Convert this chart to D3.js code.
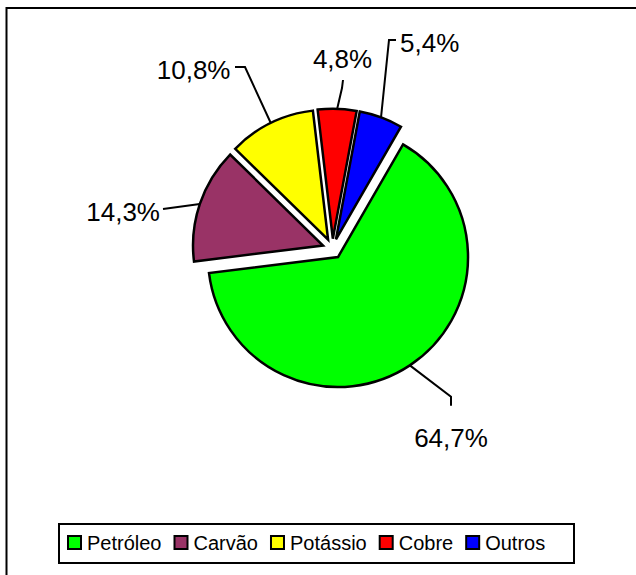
<!DOCTYPE html>
<html>
<head>
<meta charset="utf-8">
<script src="https://cdn.jsdelivr.net/npm/d3@7/dist/d3.min.js"></script>
<style>
  body { margin: 0; background: #fff; }
  text { font-family: "Liberation Sans", Arial, sans-serif; fill: #000; }
</style>
</head>
<body>
<svg id="chart" width="636" height="575"></svg>
<script>
var categories = ["Petróleo", "Carvão", "Potássio", "Cobre", "Outros"];
var values = [64.7, 14.3, 10.8, 4.8, 5.4];
var labels = ["64,7%", "14,3%", "10,8%", "4,8%", "5,4%"];
var colors = ["#00ff00", "#993366", "#ffff00", "#ff0000", "#0000ff"];

// label placement, relative to pie centre: elbow, line end, text anchor
var labelLayout = [
  {elbow: [118.5, 148], end: [118.5, 157], text: [118.5, 198], anchor: "middle"},
  {elbow: null, end: [-169.5, -39.7], text: [-172.5, -27.7], anchor: "end"},
  {elbow: [-87.5, -181.7], end: [-97.5, -181.7], text: [-102, -169.7], anchor: "end"},
  {elbow: [9.5, -160.7], end: [10.5, -168.7], text: [10, -180.7], anchor: "middle"},
  {elbow: [56.5, -208.7], end: [63.5, -208.7], text: [67.5, -196.7], anchor: "start"}
];

var svg = d3.select("svg#chart"),
    cx = 332.5, cy = 248.7,
    radius = 130,
    explode = 10;

// outer chart frame (runs off the page to the right and bottom)
svg.append("rect")
    .attr("x", 6.5).attr("y", 8)
    .attr("width", 700).attr("height", 700)
    .attr("fill", "none")
    .attr("stroke", "#000")
    .attr("stroke-width", 2);

var pie = d3.pie()
    .sort(null)
    .startAngle(30 * Math.PI / 180)
    .endAngle(390 * Math.PI / 180)
    .value(function(d) { return d; });

var arcs = pie(values);

var arc = d3.arc().innerRadius(0).outerRadius(radius);

function offset(d, r) {
  var a = (d.startAngle + d.endAngle) / 2;
  return [Math.sin(a) * r, -Math.cos(a) * r];
}

var g = svg.append("g").attr("transform", "translate(" + cx + "," + cy + ")");

g.selectAll("path.slice")
  .data(arcs)
  .enter().append("path")
    .attr("class", "slice")
    .attr("transform", function(d) { var o = offset(d, explode); return "translate(" + o[0] + "," + o[1] + ")"; })
    .attr("d", arc)
    .attr("fill", function(d, i) { return colors[i]; })
    .attr("stroke", "#000")
    .attr("stroke-width", 2.5)
    .attr("stroke-linejoin", "miter");

// leader lines
g.selectAll("polyline.leader")
  .data(arcs)
  .enter().append("polyline")
    .attr("class", "leader")
    .attr("points", function(d, i) {
      var o = offset(d, explode), p = offset(d, radius), L = labelLayout[i];
      var pts = [[o[0] + p[0], o[1] + p[1]]];
      if (L.elbow) pts.push(L.elbow);
      pts.push(L.end);
      return pts.map(function(q) { return q.join(","); }).join(" ");
    })
    .attr("fill", "none")
    .attr("stroke", "#000")
    .attr("stroke-width", 2);

g.selectAll("text.lbl")
  .data(arcs)
  .enter().append("text")
    .attr("class", "lbl")
    .attr("x", function(d, i) { return labelLayout[i].text[0]; })
    .attr("y", function(d, i) { return labelLayout[i].text[1]; })
    .attr("text-anchor", function(d, i) { return labelLayout[i].anchor; })
    .attr("font-size", 26)
    .text(function(d, i) { return labels[i]; });

// legend
var legend = svg.append("g");
legend.append("rect")
    .attr("x", 59).attr("y", 524)
    .attr("width", 515).attr("height", 39)
    .attr("fill", "#fff")
    .attr("stroke", "#000")
    .attr("stroke-width", 2);

var lx = 68;
categories.forEach(function(c, i) {
  var item = legend.append("g").attr("transform", "translate(" + lx + ",536)");
  item.append("rect")
      .attr("x", 0).attr("y", 0)
      .attr("width", 13).attr("height", 13)
      .attr("fill", colors[i])
      .attr("stroke", "#000")
      .attr("stroke-width", 2);
  var t = item.append("text")
      .attr("x", 19).attr("y", 14)
      .attr("font-size", 20)
      .text(c);
  lx += 19 + t.node().getComputedTextLength() + 13;
});
</script>
</body>
</html>
